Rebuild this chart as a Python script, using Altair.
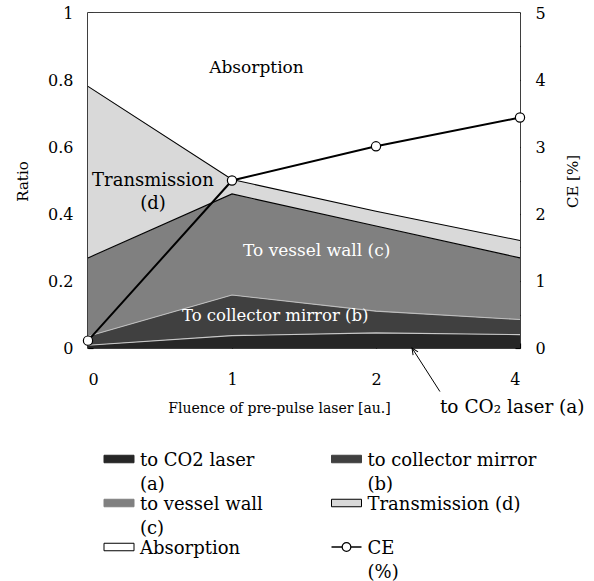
import json
import altair as alt
import pandas as pd

# ---------------- data ----------------
fluence_labels = ["0", "1", "2", "4"]
to_co2_laser = [0.008, 0.037, 0.045, 0.040]
to_collector_mirror = [0.027, 0.121, 0.065, 0.045]
to_vessel_wall = [0.234, 0.302, 0.254, 0.184]
transmission = [0.512, 0.043, 0.044, 0.052]
absorption = [0.219, 0.497, 0.592, 0.679]
ce_percent = [0.11, 2.50, 3.01, 3.44]

components = ["to CO2 laser (a)", "to collector mirror (b)", "to vessel wall (c)",
              "Transmission (d)", "Absorption"]
legend_texts = ["to CO2 laser\n(a)", "to collector mirror\n(b)", "to vessel wall\n(c)",
                "Transmission (d)", "Absorption", "CE\n(%)"]

# ---------------- styles ----------------
FONT = "DejaVu Serif"
fills = ["#262626", "#404040", "#808080", "#d9d9d9", "#ffffff"]
edge_colors = ["#c8c8c8", "#bdbdbd", "#000000", "#000000"]
swatch_strokes = ["#262626", "#404040", "#808080", "#000000", "#000000"]

series = [to_co2_laser, to_collector_mirror, to_vessel_wall, transmission, absorption]
idx = list(range(len(fluence_labels)))

rows = []
for ci, (name, vals) in enumerate(zip(components, series)):
    for i in idx:
        lo = sum(series[k][i] for k in range(ci))
        rows.append(dict(i=i, comp=name, lo=lo, hi=lo + vals[i]))
area_df = pd.DataFrame(rows)
edge_df = area_df[area_df["comp"] != "Absorption"].copy()

ce_df = pd.DataFrame({"i": idx, "ce": ce_percent})

# ---------------- scales / axes ----------------
x_scale = alt.Scale(domain=[0, len(idx) - 1], nice=False, zero=False)
x_axis = alt.Axis(
    values=idx,
    labelExpr=f"{json.dumps(fluence_labels)}[datum.value]",
    title="Fluence of pre-pulse laser [au.]",
    domain=False, grid=False, tickSize=5, offset=-5, tickColor="black", tickWidth=1.2,
    labelPadding=23, labelFont=FONT, labelFontSize=16, labelColor="black",
    titleFont=FONT, titleFontSize=14, titleFontWeight="normal", titleColor="black",
    titleX=191, titleY=69, titleAlign="center", titleBaseline="alphabetic",
)
y_scale = alt.Scale(domain=[0, 1], nice=False, zero=False)
y_axis = alt.Axis(
    values=[round(k * 0.1, 1) for k in range(11)],
    labelExpr="round(datum.value*10) % 2 == 0 ? format(datum.value, '~g') : ''",
    title="Ratio",
    domain=False, grid=False, tickSize=5, offset=-5, tickColor="black", tickWidth=1.2,
    labelPadding=15, labelFont=FONT, labelFontSize=16, labelColor="black",
    titleFont=FONT, titleFontSize=15, titleFontWeight="normal", titleColor="black",
    titleAngle=270, titleX=-71, titleY=168, titleAlign="center", titleBaseline="middle",
)
color_scale = alt.Scale(domain=components, range=fills)
edge_scale = alt.Scale(domain=components[:4], range=edge_colors)

areas = alt.Chart(area_df).mark_area(interpolate="linear", opacity=1, strokeWidth=0).encode(
    x=alt.X("i:Q", scale=x_scale, axis=x_axis),
    y=alt.Y("lo:Q", scale=y_scale, axis=y_axis),
    y2="hi:Q",
    color=alt.Color("comp:N", scale=color_scale, legend=None),
)
edges = alt.Chart(edge_df).mark_line(strokeWidth=1.1).encode(
    x=alt.X("i:Q", scale=x_scale),
    y=alt.Y("hi:Q", scale=y_scale),
    stroke=alt.Stroke("comp:N", scale=edge_scale, legend=None),
    detail="comp:N",
)

# in-plot annotations (position in data units)
ann_df = pd.DataFrame({
    "text": ["Absorption", "Transmission", "(d)", "To vessel wall (c)", "To collector mirror (b)"],
    "i": [1.17, 0.451, 0.451, 1.588, 1.30],
    "v": [0.837, 0.500, 0.431, 0.289, 0.095],
    "col": ["black", "black", "black", "white", "white"],
    "fs": [17, 18, 18, 17, 16.5],
})
ann = alt.Chart(ann_df).mark_text(font=FONT, baseline="middle", align="center").encode(
    x=alt.X("i:Q", scale=x_scale),
    y=alt.Y("v:Q", scale=y_scale),
    text="text:N",
    color=alt.Color("col:N", scale=None),
    size=alt.Size("fs:Q", scale=None),
)

arrow_df = pd.DataFrame({"i": [2.444, 2.25], "v": [-0.13, 0.0]})
arrow_line = alt.Chart(arrow_df).mark_line(color="black", strokeWidth=1).encode(
    x=alt.X("i:Q", scale=x_scale), y=alt.Y("v:Q", scale=y_scale))
arrow_head = alt.Chart(arrow_df.iloc[[1]]).mark_point(
    shape="M-0.45,1L0,0L0.45,1", size=170, filled=False, stroke="black",
    strokeWidth=1, angle=327, opacity=1).encode(
    x=alt.X("i:Q", scale=x_scale), y=alt.Y("v:Q", scale=y_scale))
arrow_text = alt.Chart(pd.DataFrame({"i": [2.444], "v": [-0.175], "t": ["to CO\u2082 laser (a)"]})).mark_text(
    font=FONT, fontSize=18.5, align="left", baseline="middle", color="black").encode(
    x=alt.X("i:Q", scale=x_scale), y=alt.Y("v:Q", scale=y_scale), text="t:N")

main = alt.layer(areas, edges, ann, arrow_line, arrow_head, arrow_text)

# ---------------- CE (right axis) ----------------
x_ce = alt.X("i:Q", scale=x_scale, axis=None)
y_ce = alt.Y("ce:Q", scale=alt.Scale(domain=[0, 5], nice=False, zero=False), axis=alt.Axis(
    orient="right",
    values=[k * 0.5 for k in range(11)],
    labelExpr="datum.value % 1 == 0 ? format(datum.value, '~g') : ''",
    title="CE [%]",
    domain=False, grid=False, tickSize=5, offset=-5, tickColor="black", tickWidth=1.2,
    labelPadding=15, labelFont=FONT, labelFontSize=16, labelColor="black",
    titleFont=FONT, titleFontSize=15, titleFontWeight="normal", titleColor="black",
    titleAngle=270, titleX=57, titleY=168, titleAlign="center", titleBaseline="middle",
))
ce_line = alt.Chart(ce_df).mark_line(color="black", strokeWidth=2).encode(x=x_ce, y=y_ce)
ce_pts = alt.Chart(ce_df).mark_point(shape="circle", filled=True, fill="white", stroke="black",
                                     strokeWidth=1.2, size=85, opacity=1).encode(x=x_ce, y=y_ce)
ce_layer = alt.layer(ce_line, ce_pts)

# ---------------- custom legend ----------------
n_items = len(legend_texts)
leg_df = pd.DataFrame({
    "label": legend_texts,
    "col": [k % 2 for k in range(n_items)],
    "row": [k // 2 for k in range(n_items)],
})
sw_df = leg_df.iloc[:5].copy()
sw_df["fill"] = fills
sw_df["stroke"] = swatch_strokes
ce_leg = leg_df.iloc[[5]]

lx = alt.X("col:Q", scale=alt.Scale(domain=[0, 1], range=[31, 258.5]), axis=None)
ly = alt.Y("row:Q", scale=alt.Scale(domain=[0, 2], range=[446, 534]), axis=None)

swatches = alt.Chart(sw_df).mark_point(
    shape="M-1,-0.25H1V0.25H-1Z", size=900, filled=True, strokeWidth=1, opacity=1).encode(
    x=lx, y=ly,
    fill=alt.Fill("fill:N", scale=None),
    stroke=alt.Stroke("stroke:N", scale=None),
)
ce_leg_line = alt.Chart(ce_leg).mark_point(
    shape="M-1,0H1", size=900, filled=False, stroke="black", strokeWidth=1.5, opacity=1).encode(x=lx, y=ly)
ce_leg_pt = alt.Chart(ce_leg).mark_point(
    shape="circle", size=75, filled=True, fill="white", stroke="black", strokeWidth=1.2, opacity=1).encode(x=lx, y=ly)
leg_text = alt.Chart(leg_df).mark_text(
    font=FONT, fontSize=18, align="left", baseline="alphabetic", dx=21, dy=7,
    lineBreak="\n", lineHeight=23.5, color="black").encode(x=lx, y=ly, text="label:N")
legend_layer = alt.layer(swatches, ce_leg_line, ce_leg_pt, leg_text)

chart = alt.layer(main, ce_layer, legend_layer).resolve_scale(
    x="independent", y="independent"
).properties(
    width=432, height=335,
    autosize=alt.AutoSizeParams(type="none"),
    padding={"left": 88, "top": 13, "right": 74, "bottom": 233},
    background="white",
).configure_view(stroke="black", strokeWidth=1.5)

chart.save("out.html", embed_options={"renderer": "svg", "actions": False})
